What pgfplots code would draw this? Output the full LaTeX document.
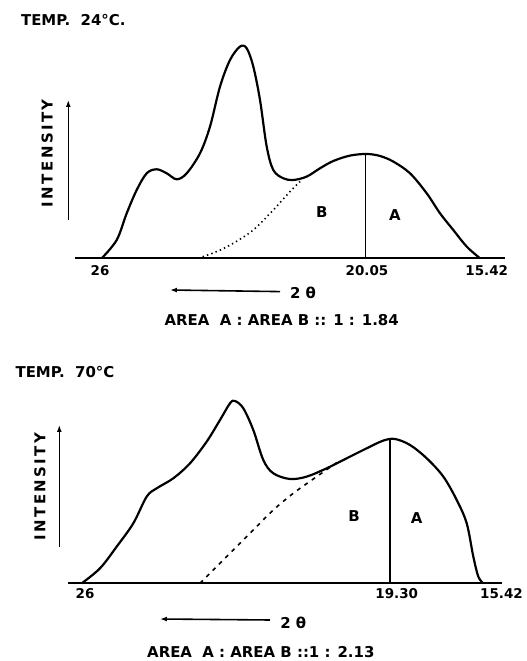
\documentclass[border=0pt]{standalone}
\usepackage{fontspec}
\setmainfont{DejaVu Sans}
\usepackage{pgfplots}
\pgfplotsset{compat=1.18}
\usetikzlibrary{arrows.meta}
\begin{document}
\begin{tikzpicture}[x=1bp,y=1bp,font=\fontsize{15}{17}\selectfont\bfseries]
\useasboundingbox (0,0) rectangle (527,661);
\pgfplotsset{panel/.style={
  x=1bp, y=1bp, anchor=south west, clip=false,
  axis x line=bottom, axis y line=none,
  axis line style={-, line width=1.8pt},
  major tick length=0pt, ytick=\empty,
  /pgf/number format/assume math mode=true,
  xticklabel style={font=\fontsize{13.5}{15}\selectfont\bfseries, anchor=north, inner sep=1pt},
  ymin=0}}
% ---------- top panel ----------
\begin{axis}[panel, at={(75,402.7)}, xmin=75, xmax=505, ymax=215,
  xtick={100,367,486.7}, xticklabels={26,20.05,15.42},
  xticklabel style={yshift=-6bp}]
\addplot[line width=2.2pt, smooth, tension=0.55] coordinates {
(101.7,0) (116.7,18.3) (126.7,45) (136.7,68.3) (146.7,85) (156.7,89) (166.7,85)
(176.7,79) (186.7,85) (200,105) (210,131.7) (220,171.7) (230,198.3) (240,211.7)
(246.7,210) (253.3,191.7) (260,158.3) (266.7,111.7) (273.3,88.3) (283.3,80)
(293.3,78.3) (306.7,81.7) (320,90) (333.3,97.3) (350,102.7) (366.7,104.3)
(380,102.3) (393.3,96.7) (410,85) (426.7,65) (440,45) (453.3,28.3) (466.7,11.7) (480,0)};
\addplot[line width=1.6pt, dash pattern=on 1.4pt off 3.2pt, smooth] coordinates {
(198.3,0) (216.7,6.7) (233.3,15) (253.3,28.3) (273.3,48.3) (290,66.7) (301.7,78.3)};
\addplot[line width=1.5pt] coordinates {(365.7,0) (365.7,104.3)};
\node at (axis cs:321.7,46.7) {B};
\node at (axis cs:395,43.3) {A};
\node[rotate=90] at (axis cs:47.3,105) {I\,N\,T\,E\,N\,S\,I\,T\,Y};
\draw[line width=1.5pt,-{Latex[length=7pt,width=5pt]}] (axis cs:68.3,38.3) -- (axis cs:68.3,158.3);
\draw[line width=1.6pt,-{Latex[length=7pt,width=5pt]}] (axis cs:280,-33.3) -- (axis cs:170,-31.7);
\node at (axis cs:303,-35) {2\,\,θ};
\node at (axis cs:281.7,-61.7) {AREA\ \ A : AREA B :: 1 : 1.84};
\node at (axis cs:73.3,238.3) {TEMP.\ \ 24°C.};
\end{axis}
% ---------- bottom panel ----------
\begin{axis}[panel, at={(68,77.7)}, xmin=68, xmax=502, ymax=190,
  xtick={85,396.7,501.5}, xticklabels={26,19.30,15.42},
  xticklabel style={yshift=-4bp}]
\addplot[line width=2.2pt, smooth, tension=0.55] coordinates {
(81.7,0) (100,15) (116.7,36.7) (133.3,60) (146.7,86.7) (156.7,95) (173.3,105)
(190,120) (206.7,141.7) (220,163.3) (230,180) (235,182.3) (243.3,175) (253.3,153.3)
(263.3,123.3) (273.3,110) (290,104.3) (306.7,106.7) (326.7,115) (346.7,125)
(366.7,135) (383.3,142.7) (395,144.3) (410,138.3) (426.7,125) (443.3,106.7)
(456.7,83.3) (466.7,60) (473.3,26.7) (478.3,6.7) (483.3,0)};
\addplot[line width=1.6pt, dash pattern=on 4pt off 5pt, smooth] coordinates {
(200,0) (216.7,16.7) (233.3,33.3) (253.3,53.3) (273.3,73.3) (293.3,90) (316.7,106.7) (338.3,121.7)};
\addplot[line width=1.5pt] coordinates {(390,0) (390,144)};
\node at (axis cs:354,67.3) {B};
\node at (axis cs:416.7,65) {A};
\node[rotate=90] at (axis cs:40,96.7) {I\,N\,T\,E\,N\,S\,I\,T\,Y};
\draw[line width=1.5pt,-{Latex[length=7pt,width=5pt]}] (axis cs:59.3,36.7) -- (axis cs:59.3,158.3);
\draw[line width=1.6pt,-{Latex[length=7pt,width=5pt]}] (axis cs:270,-36.7) -- (axis cs:160,-35.7);
\node at (axis cs:293.3,-40) {2\,\,θ};
\node at (axis cs:260.8,-68.3) {AREA\ \ A : AREA B ::1 : 2.13};
\node at (axis cs:65,211.7) {TEMP.\ \ 70°C};
\end{axis}
\end{tikzpicture}
\end{document}
